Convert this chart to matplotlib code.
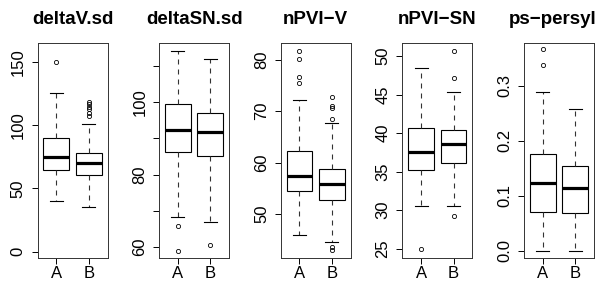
import matplotlib
matplotlib.use("Agg")
import matplotlib.pyplot as plt

plt.rcParams['font.family'] = ['Liberation Sans', 'DejaVu Sans']

# --- data (box stats per panel, groups A and B) ---
titles = ["deltaV.sd", "deltaSN.sd", "nPVI\u2212V", "nPVI\u2212SN", "ps\u2212persyl"]
groups = ["A", "B"]

q1 = [[64.2, 61.0], [86.2, 85.1], [54.4, 52.7], [35.2, 36.1], [0.071, 0.069]]
med = [[74.6, 69.8], [92.4, 91.7], [57.3, 55.8], [37.6, 38.65], [0.124, 0.114]]
q3 = [[90.0, 78.0], [99.4, 97.1], [62.2, 58.8], [40.65, 40.4], [0.177, 0.154]]
whislo = [[40.1, 35.0], [68.4, 67.0], [45.9, 44.5], [30.6, 30.5], [0.0, 0.0]]
whishi = [[125.3, 100.9], [114.0, 111.8], [72.1, 67.7], [48.4, 45.4], [0.288, 0.258]]
fliers = [
    [[150.3], [118.7, 116.8, 114.7, 112.6, 109.4, 107.5]],
    [[65.9, 58.9], [60.5]],
    [[81.8, 80.2, 76.6, 75.6], [72.7, 71.0, 70.6, 68.5, 43.5, 42.9]],
    [[25.0], [50.6, 47.1, 29.2]],
    [[0.367, 0.338], []],
]

ylims = [(-5, 165), (57, 116.3), (41.4, 83.3), (23.8, 51.7), (-0.013, 0.378)]
yticks = [[0, 50, 100, 150], [60, 70, 80, 90, 100, 110], [50, 60, 70, 80],
          [25, 30, 35, 40, 45, 50], [0.0, 0.1, 0.2, 0.3]]
ylabels = [["0", "50", "100", "150"], ["60", "", "80", "", "100", ""],
           ["50", "60", "70", "80"], ["25", "30", "35", "40", "45", "50"],
           ["0.0", "0.1", "0.2", "0.3"]]

W, H = 600, 282
fig = plt.figure(figsize=(W / 100, H / 100), dpi=100)

top_px, bot_px = 43, 258
for i in range(5):
    left_px = 37.5 + i * 121.6
    ax = fig.add_axes([left_px / W, 1 - bot_px / H, 70 / W, (bot_px - top_px) / H])

    stats = []
    for j in range(2):
        stats.append(dict(q1=q1[i][j], med=med[i][j], q3=q3[i][j],
                          whislo=whislo[i][j], whishi=whishi[i][j],
                          fliers=fliers[i][j], label=groups[j]))

    ax.bxp(stats, positions=[1, 2], widths=0.8, capwidths=0.4,
           patch_artist=True,
           boxprops=dict(facecolor="white", edgecolor="black", linewidth=0.8),
           medianprops=dict(color="black", linewidth=2.3, solid_capstyle="butt"),
           whiskerprops=dict(color="#333333", linewidth=0.8, linestyle=(0, (4.5, 4.5))),
           capprops=dict(color="black", linewidth=0.8),
           flierprops=dict(marker="o", markersize=3, markerfacecolor="none",
                           markeredgecolor="black", markeredgewidth=0.6))

    ax.set_xlim(0.42, 2.58)
    ax.set_ylim(*ylims[i])
    ax.set_yticks(yticks[i])
    ax.set_yticklabels(ylabels[i], rotation=90, va="center")
    ax.set_xticks([1, 2])
    ax.set_xticklabels(groups)
    ax.tick_params(labelsize=12, length=4.5, width=0.7)
    ax.tick_params(axis="x", pad=1.5)
    ax.tick_params(axis="y", pad=4)
    for s in ax.spines.values():
        s.set_linewidth(0.7)
        s.set_color("#333333")

    # last title runs up to the right edge of the figure
    if i == 4:
        fig.text(597 / W, 1 - 20 / H, titles[i], ha="right", va="center",
                 fontsize=13.5, fontweight="bold")
    else:
        fig.text((left_px + 35) / W, 1 - 20 / H, titles[i], ha="center", va="center",
                 fontsize=13.5, fontweight="bold")

fig.savefig("out.png", dpi=100)
